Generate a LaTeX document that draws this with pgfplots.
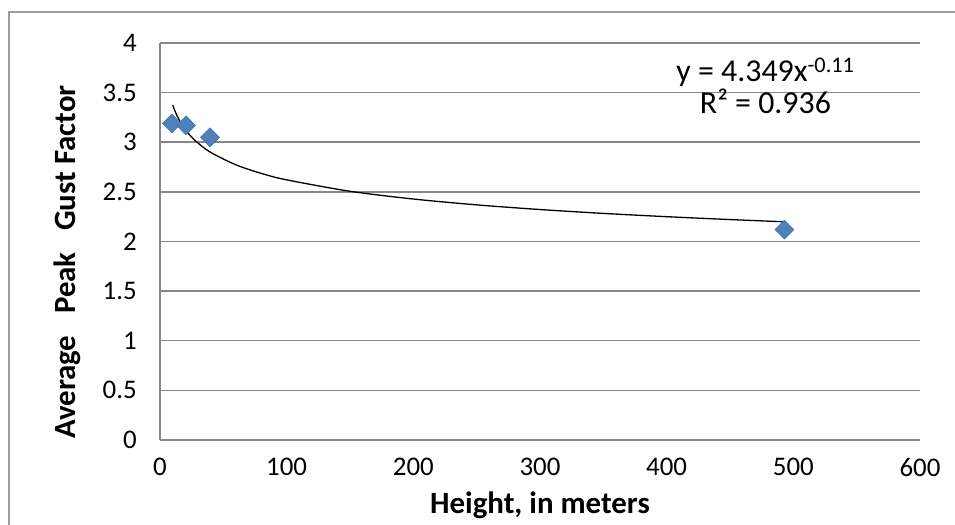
\documentclass[border=0pt]{standalone}
\usepackage{fontspec}
\setmainfont{Carlito}
\usepackage{pgfplots}
\pgfplotsset{compat=1.18}
\definecolor{gridc}{HTML}{868686}
\definecolor{mk}{HTML}{4F81BD}
\definecolor{mkedge}{HTML}{3A6EA5}
\begin{document}
\begin{tikzpicture}[x=1bp,y=1bp]
\useasboundingbox (-160,-85) rectangle (795,440);
\draw[gridc!80, line width=1.5bp] (-151,-100) -- (-151,428) -- (810,428);
\begin{axis}[
  at={(0,0)}, anchor=south west,
  scale only axis, width=760bp, height=397bp,
  xmin=0, xmax=600, ymin=0, ymax=4,
  xtick={0,100,...,600},
  ytick={0,0.5,...,4},
  yticklabels={0,0.5,1,1.5,2,2.5,3,3.5,4},
  axis x line*=bottom, axis y line*=left,
  axis line style={gridc, line width=1.5bp, -},
  ymajorgrids,
  grid style={gridc, line width=1.5bp},
  major tick length=0pt,
  /pgf/number format/assume math mode=true,
  tick label style={font=\fontsize{27}{31}\selectfont, inner sep=0pt},
  xticklabel style={anchor=north, yshift=-18bp},
  yticklabel style={anchor=east, xshift=-23bp},
  xlabel={Height, in meters},
  ylabel={Average\hspace{0.7em}Peak\hspace{0.7em}Gust Factor},
  label style={font=\fontsize{31}{36}\selectfont\bfseries},
  xlabel style={at={(axis description cs:0.5,-0.184)}, anchor=base},
  ylabel style={at={(axis description cs:-0.1118,0.4484)}, anchor=base},
  clip=false,
]
\addplot[black, line width=1.3bp, smooth] coordinates {
 (10,3.376) (12,3.309) (15,3.229) (20,3.128) (25,3.052) (30,2.992) (40,2.898)
 (60,2.772) (80,2.686) (100,2.621) (150,2.506) (200,2.428) (250,2.369)
 (300,2.322) (350,2.283) (400,2.250) (450,2.221) (494,2.198)};
\addplot[only marks, mark=square*, mark size=6.7bp,
  mark options={rotate=45, fill=mk, draw=mkedge, line width=0.5bp}] coordinates {
 (9.5,3.19) (20.5,3.17) (39.5,3.05) (493,2.12)};
\node[font=\fontsize{32}{36}\selectfont, anchor=base] at (axis cs:478,3.617) {y = 4.349x\textsuperscript{-0.11}};
\node[font=\fontsize{32}{36}\selectfont, anchor=base] at (axis cs:478,3.29) {R² = 0.936};
\end{axis}
\end{tikzpicture}
\end{document}
